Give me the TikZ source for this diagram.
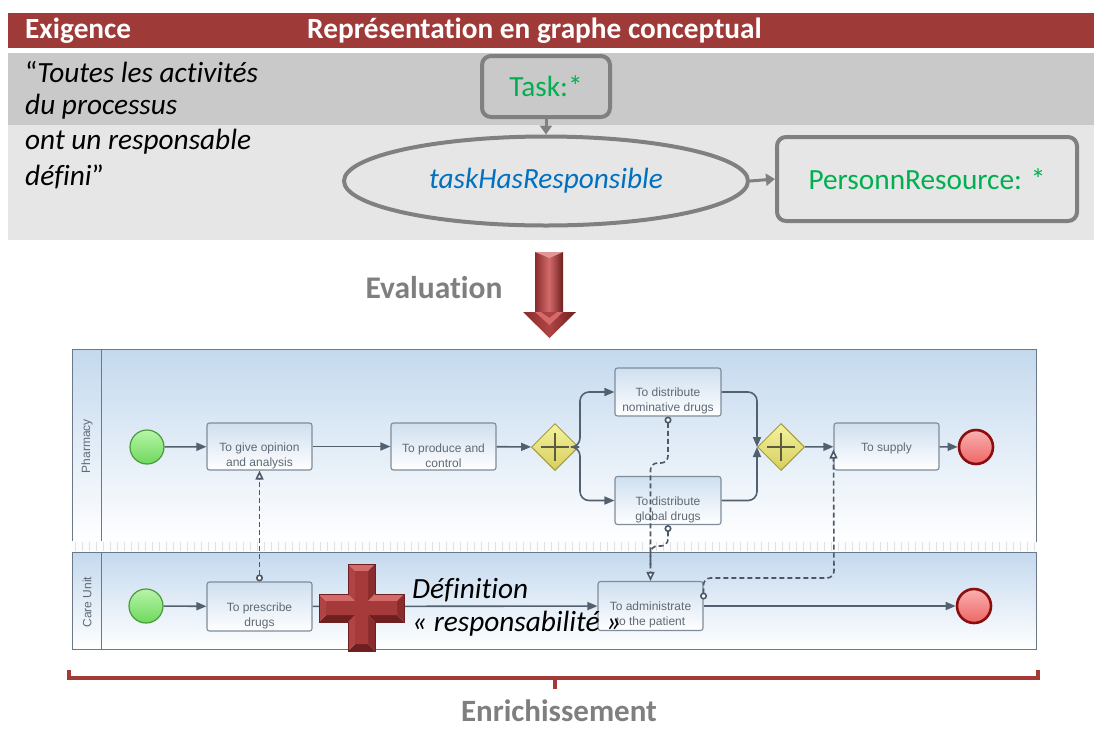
\documentclass[tikz,border=0pt]{standalone}
\usepackage{fontspec}
\setmainfont{Carlito}[Ligatures=NoCommon]
\newfontfamily\arialf{Liberation Sans}
\usetikzlibrary{arrows.meta,shapes.geometric,calc}
\definecolor{hdr}{HTML}{9E3A38}
\definecolor{bandA}{HTML}{C9C9C9}
\definecolor{bandB}{HTML}{E6E6E6}
\definecolor{cgline}{HTML}{808080}
\definecolor{cggreen}{HTML}{00B050}
\definecolor{cgblue}{HTML}{0070C0}
\definecolor{graytxt}{HTML}{7F7F7F}
\definecolor{bracec}{HTML}{A33A37}
\definecolor{laneTop}{HTML}{C4D9EE}
\definecolor{laneLine}{HTML}{6A7888}
\definecolor{taskTop}{HTML}{CFDFEF}
\definecolor{taskLine}{HTML}{7F8C9A}
\definecolor{taskTxt}{HTML}{5F6A76}
\definecolor{flowc}{HTML}{52616F}
\definecolor{msgc}{HTML}{4C5866}
\definecolor{gwTop}{HTML}{F5F2A0}
\definecolor{gwBot}{HTML}{D6CF5C}
\definecolor{gwLine}{HTML}{A39B3C}
\definecolor{plusc}{HTML}{5E5A40}
\definecolor{stTop}{HTML}{B6F5A8}
\definecolor{stBot}{HTML}{6FD85C}
\definecolor{stLine}{HTML}{4A9A3A}
\definecolor{enTop}{HTML}{F9B0B0}
\definecolor{enBot}{HTML}{EE6666}
\definecolor{enLine}{HTML}{8A0E0E}
\definecolor{rulerc}{HTML}{DCE2E8}
\definecolor{rA}{HTML}{D46A6A}
\definecolor{rB}{HTML}{B04444}
\definecolor{rC}{HTML}{8A2C2C}
\definecolor{rD}{HTML}{6E1F1F}
\definecolor{rE}{HTML}{A63A3A}
\newcommand\fbig{\fontsize{29.3}{35}\selectfont}
\newcommand\fsmall{\arialf\fontsize{12}{15}\selectfont}
\tikzset{
  cgbox/.style={draw=cgline, line width=4pt, rounded corners=9pt, inner sep=0pt},
  cgarrow/.style={draw=cgline, line width=3pt, -{Triangle[length=9pt,width=12pt]}},
  tbox/.style={draw=taskLine, line width=1.1pt, rounded corners=2.5pt, top color=taskTop, bottom color=white, minimum width=105pt, minimum height=47pt, inner sep=0pt},
  ttext/.style={font=\fsmall, text=taskTxt, align=center, inner sep=0pt},
  startev/.style={circle, draw=stLine, line width=1.2pt, top color=stTop, bottom color=stBot, minimum size=34pt, inner sep=0pt},
  endev/.style={circle, draw=enLine, line width=2.6pt, top color=enTop, bottom color=enBot, minimum size=34pt, inner sep=0pt},
  gw/.style={diamond, draw=gwLine, line width=1pt, top color=gwTop, bottom color=gwBot, minimum width=47pt, minimum height=47pt, inner sep=0pt},
  gwplus/.style={draw=plusc, line width=2.8pt},
  seq/.style={draw=flowc, line width=1.6pt, -{Triangle[length=10pt,width=8pt]}},
  msg/.style={draw=msgc, line width=1.6pt, dash pattern=on 5pt off 3pt, rounded corners=7pt},
  msgtips/.style={{Circle[length=7pt,width=7pt,fill=white]}-{Triangle[length=9pt,width=8pt,fill=white]}},
  lanelbl/.style={font=\arialf\fontsize{12}{14}\selectfont, text=taskTxt, rotate=90},
}
\begin{document}
\begin{tikzpicture}[x=1pt,y=-1pt]
\useasboundingbox (0,0) rectangle (1094,729);
\fill[white] (0,0) rectangle (1094,729);
% ===== table header =====
\fill[hdr] (8,13) rectangle (1094,48);
\fill[bandA] (8,53) rectangle (1094,125);
\fill[bandB] (8,125) rectangle (1094,240);
\node[anchor=west, text=white, font=\fbig\bfseries, inner sep=0pt] (hExig) at (25,31) {Exigence};
\node[anchor=west, text=white, font=\fbig\bfseries, inner sep=0pt] (hRep) at (307,31) {Représentation en graphe conceptual};
\node[anchor=west, font=\fbig, inner sep=0pt] (q1) at (25,72) {\textup{“}\textit{Toutes les activités}};
\node[anchor=west, font=\fbig\itshape, inner sep=0pt] (q2) at (25,107) {du processus};
\node[anchor=west, font=\fbig\itshape, inner sep=0pt] (q3) at (25,142) {ont un responsable};
\node[anchor=west, font=\fbig, inner sep=0pt] (q4) at (25,177) {\textit{défini}\textup{”}};
% conceptual graph
\node[cgbox, minimum width=128pt, minimum height=61pt, text=cggreen, font=\fbig] (task) at (546,86.5) {Task:*};
\node[ellipse, draw=cgline, line width=4pt, minimum width=404pt, minimum height=89pt, inner sep=0pt, text=cgblue, font=\fbig\itshape] (rel) at (546,181) {taskHasResponsible};
\node[cgbox, minimum width=300pt, minimum height=84pt, text=cggreen, font=\fbig] (pers) at (927,179) {PersonnResource: *};
\draw[cgarrow] (task.south) -- (rel.north);
\draw[cgarrow] (rel.east) -- (pers.west);
% ===== Evaluation arrow =====
\node[text=graytxt, font=\fontsize{31.5}{37}\selectfont\bfseries, inner sep=0pt] (evalt) at (434,288) {Evaluation};
\shade[left color=rC, right color=rD, middle color=rA] (535,252) rectangle (563,313);
\shade[left color=rC, right color=rD, middle color=rB] (523,312) -- (576,312) -- (549.5,338) -- cycle;
\fill[rA] (535,312) -- (549.5,325) -- (563,312) -- (557,312) -- (549.5,318) -- (541,312) -- cycle;
\fill[rA!70!white] (535,252) -- (563,252) -- (549.5,258) -- cycle;
% ===== BPMN pool =====
\shade[top color=laneTop, bottom color=white] (72,349) rectangle (1036,541);
\draw[laneLine, line width=0.9pt] (72,349) rectangle (1036,541);
\draw[laneLine, line width=0.9pt] (101,349) -- (101,541);
\fill[white!96!laneTop] (72,541) rectangle (1036,552);
\foreach \xx in {75,82,...,1036} { \draw[rulerc, line width=0.5pt] (\xx,542) -- (\xx,551); }
\shade[top color=laneTop, bottom color=white] (72,552) rectangle (1036,649);
\draw[laneLine, line width=0.9pt] (72,552) rectangle (1036,649);
\draw[laneLine, line width=0.9pt] (101,552) -- (101,649);
\node[lanelbl] (lPh) at (87,446) {Pharmacy};
\node[lanelbl] (lCu) at (87,602) {Care Unit};
% pharmacy lane
\node[startev] (s1) at (147,447) {};
\node[tbox] (t1) at (259.5,446.5) {};
\node[ttext] (t1l) at (259.5,455.5) {To give opinion\\and analysis};
\node[tbox] (t2) at (443.5,446.5) {};
\node[ttext] (t2l) at (443.5,455.5) {To produce and\\control};
\node[gw] (g1) at (555,447) {};
\draw[gwplus] ($(g1)+(-14,0)$) -- ($(g1)+(14,0)$) ($(g1)+(0,-14)$) -- ($(g1)+(0,14)$);
\node[tbox, minimum width=106pt, minimum height=48pt] (t3) at (668,392) {};
\node[ttext] (t3l) at (668,401) {To distribute\\nominative drugs};
\node[tbox, minimum width=106pt, minimum height=48pt] (t4) at (668,500.5) {};
\node[ttext] (t4l) at (668,509.5) {To distribute\\global drugs};
\node[gw] (g2) at (781,447) {};
\draw[gwplus] ($(g2)+(-14,0)$) -- ($(g2)+(14,0)$) ($(g2)+(0,-14)$) -- ($(g2)+(0,14)$);
\node[tbox] (t5) at (886.5,446.5) {};
\node[ttext] (t5l) at (886.5,448) {To supply};
\node[endev] (e1) at (976,447) {};
% care unit lane
\node[startev] (s2) at (146,606) {};
\node[tbox, minimum height=49pt] (tp) at (259.5,606.5) {};
\node[ttext] (tpl) at (259.5,616) {To prescribe\\drugs};
\node[tbox, minimum height=49pt] (ta) at (650.5,606) {};
\node[ttext] (tal) at (650.5,615) {To administrate\\to the patient};
\node[endev] (e2) at (974,606) {};
% sequence flows
\draw[seq] (s1) -- (t1);
\draw[seq] (t1) -- (t2);
\draw[seq] (t2) -- (g1);
\draw[seq, rounded corners=9pt] (g1.east) -- ++(1,0) |- (t3.west);
\draw[seq, rounded corners=9pt] (g1.east) -- ++(1,0) |- (t4.west);
\draw[seq, rounded corners=9pt] (t3.east) -| (g2.west);
\draw[seq, rounded corners=9pt] (t4.east) -| (g2.west);
\draw[seq] (g2) -- (t5);
\draw[seq] (t5) -- (e1);
\draw[seq] (s2) -- (tp);
\draw[seq] (tp) -- (ta);
\draw[seq] (ta.east) -- (e2);
% message flows
\coordinate (ma) at ($(ta.east)+(0,-6.5)$);
\coordinate (ms) at ($(t5.west)+(0,3)$);
\draw[msg, msgtips] (tp.north) -- (t1.south);
\draw[msg, msgtips] (t3.south) -- (668,463) -- (650.5,463) -- (ta.north);
\draw[msg, {Circle[length=7pt,width=7pt,fill=white]}-] (t4.south) -- (668,546) -- (650.5,546) -- (650.5,565);
\draw[msg, msgtips] (ma) -- (703.5,578) -- (834,578) -- (ms);
% red cross
\coordinate (c1) at (348,564); \coordinate (c2) at (375,564); \coordinate (c3) at (375,594);
\coordinate (c4) at (404,594); \coordinate (c5) at (404,622); \coordinate (c6) at (375,622);
\coordinate (c7) at (375,651); \coordinate (c8) at (348,651); \coordinate (c9) at (348,622);
\coordinate (c10) at (319,622); \coordinate (c11) at (319,594); \coordinate (c12) at (348,594);
\coordinate (i1) at (355,571); \coordinate (i2) at (368,571); \coordinate (i3) at (368,601);
\coordinate (i4) at (397,601); \coordinate (i5) at (397,615); \coordinate (i6) at (368,615);
\coordinate (i7) at (368,644); \coordinate (i8) at (355,644); \coordinate (i9) at (355,615);
\coordinate (i10) at (326,615); \coordinate (i11) at (326,601); \coordinate (i12) at (355,601);
\fill[rA] (c1) -- (c2) -- (i2) -- (i1) -- cycle;
\fill[rC] (c2) -- (c3) -- (i3) -- (i2) -- cycle;
\fill[rA] (c3) -- (c4) -- (i4) -- (i3) -- cycle;
\fill[rC] (c4) -- (c5) -- (i5) -- (i4) -- cycle;
\fill[rD] (c5) -- (c6) -- (i6) -- (i5) -- cycle;
\fill[rC] (c6) -- (c7) -- (i7) -- (i6) -- cycle;
\fill[rD] (c7) -- (c8) -- (i8) -- (i7) -- cycle;
\fill[rB] (c8) -- (c9) -- (i9) -- (i8) -- cycle;
\fill[rD] (c9) -- (c10) -- (i10) -- (i9) -- cycle;
\fill[rB] (c10) -- (c11) -- (i11) -- (i10) -- cycle;
\fill[rA] (c11) -- (c12) -- (i12) -- (i11) -- cycle;
\fill[rB] (c12) -- (c1) -- (i1) -- (i12) -- cycle;
\fill[rE] (i1) -- (i2) -- (i3) -- (i4) -- (i5) -- (i6) -- (i7) -- (i8) -- (i9) -- (i10) -- (i11) -- (i12) -- cycle;
\draw[rD, line width=0.6pt] (c1) -- (c2) -- (c3) -- (c4) -- (c5) -- (c6) -- (c7) -- (c8) -- (c9) -- (c10) -- (c11) -- (c12) -- cycle;
\node[anchor=west, font=\fbig\itshape, inner sep=0pt] (def1) at (412,590) {Définition};
\node[anchor=west, font=\fbig\itshape, inner sep=0pt] (def2) at (412,624) {« responsabilité »};
% ===== brace =====
\draw[bracec, line width=4pt] (69,670) -- (69,678) -- (1038,678) -- (1038,670);
\draw[bracec, line width=4pt] (555,678) -- (555,689);
\node[text=graytxt, font=\fontsize{31}{37}\selectfont\bfseries, inner sep=0pt] (enr) at (559,711) {Enrichissement};
\end{tikzpicture}
\end{document}
